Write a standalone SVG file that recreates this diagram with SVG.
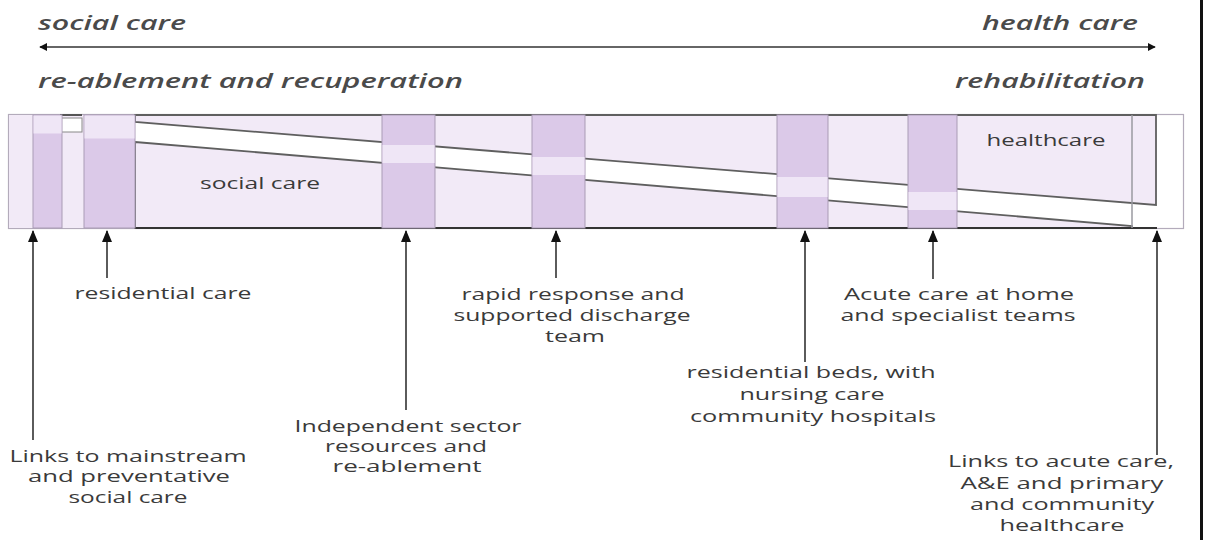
<svg xmlns="http://www.w3.org/2000/svg" width="1205" height="540" viewBox="0 0 1205 540">
<style>
.top{font-family:"Open Sans","Liberation Sans",sans-serif;font-style:italic;font-weight:600;font-size:19px;fill:#4a4a4a}
.lbl{font-family:"Open Sans","Liberation Sans",sans-serif;font-size:16px;fill:#3a3a3a}
.in{font-family:"Open Sans","Liberation Sans",sans-serif;font-size:16px;fill:#3a3a3a}
.lav{fill:#f2eaf7}
.cd{fill:#dbc9e8;stroke:#a99bb5;stroke-width:1}
.cl{fill:#efe6f6;stroke:none}
.reg{fill:#f2eaf7;stroke:#5f5f5f;stroke-width:1.8}
.con{stroke:#333;stroke-width:1.6;fill:none}
</style>
<defs>
<marker id="ah" viewBox="0 0 10 10" refX="9" refY="5" markerWidth="8" markerHeight="8" markerUnits="userSpaceOnUse" orient="auto-start-reverse">
<path d="M0,0 L10,5 L0,10 z" fill="#111"/>
</marker>
<marker id="au" viewBox="0 0 12 10" refX="11" refY="5" markerWidth="12" markerHeight="12" markerUnits="userSpaceOnUse" orient="auto">
<path d="M0,0 L12,5 L0,10 z" fill="#111"/>
</marker>
</defs>
<rect width="1205" height="540" fill="#fff"/>
<rect x="1200" y="0" width="3" height="540" fill="#111"/>

<g id="header">
<text class="top" x="38" y="30" textLength="148" lengthAdjust="spacingAndGlyphs">social care</text>
<text class="top" x="982" y="30" textLength="156" lengthAdjust="spacingAndGlyphs">health care</text>
<text class="top" x="38" y="88" textLength="425" lengthAdjust="spacingAndGlyphs">re-ablement and recuperation</text>
<text class="top" x="955" y="88" textLength="190" lengthAdjust="spacingAndGlyphs">rehabilitation</text>
</g>

<g id="bar">
<rect x="8.5" y="114.5" width="1175" height="114" fill="#fff" stroke="#b3abbb" stroke-width="1.2"/>
<rect class="lav" x="9" y="115" width="126" height="113"/>
<polygon id="healthcare-region" class="reg" points="135,115 1156,115 1156,205 135,122"/>
<polygon id="socialcare-region" class="reg" points="135,142 1132,226 1132,228 135,228"/>
<line x1="135" y1="228" x2="1157" y2="228" stroke="#333" stroke-width="2"/>
<line x1="1132" y1="115" x2="1132" y2="228" stroke="#9a9aa0" stroke-width="1.5"/>
<rect x="60" y="118" width="22" height="14" fill="#fff" stroke="#888" stroke-width="1"/>
<line x1="60" y1="115" x2="82" y2="115" stroke="#555" stroke-width="2"/>
</g>

<g id="columns">
<g id="col-a"><rect class="cd" x="33" y="115" width="29" height="113"/><rect class="cl" x="33.5" y="115.5" width="28" height="18"/></g>
<g id="col-b"><rect class="cd" x="84" y="115" width="51" height="113"/><rect class="cl" x="84.5" y="115.5" width="50" height="23"/></g>
<g id="col-c"><rect class="cd" x="382" y="115" width="53" height="113"/><rect class="cl" x="382.5" y="145" width="52" height="18"/></g>
<g id="col-d"><rect class="cd" x="532" y="115" width="53" height="113"/><rect class="cl" x="532.5" y="157" width="52" height="18"/></g>
<g id="col-e"><rect class="cd" x="777" y="115" width="51" height="113"/><rect class="cl" x="777.5" y="177" width="50" height="20"/></g>
<g id="col-f"><rect class="cd" x="908" y="115" width="49" height="113"/><rect class="cl" x="908.5" y="192" width="48" height="18"/></g>
</g>

<g id="bar-labels">
<text class="in" x="260" y="189" text-anchor="middle" textLength="120" lengthAdjust="spacingAndGlyphs">social care</text>
<text class="in" x="1046" y="146" text-anchor="middle" textLength="119" lengthAdjust="spacingAndGlyphs">healthcare</text>
</g>

<g id="connectors">
<line class="con" x1="40" y1="47" x2="1155" y2="47" marker-start="url(#ah)" marker-end="url(#ah)"/>
<line class="con" x1="33" y1="440" x2="33" y2="231" marker-end="url(#au)"/>
<line class="con" x1="107" y1="278" x2="107" y2="231" marker-end="url(#au)"/>
<line class="con" x1="406" y1="410" x2="406" y2="231" marker-end="url(#au)"/>
<line class="con" x1="556" y1="278" x2="556" y2="231" marker-end="url(#au)"/>
<line class="con" x1="805" y1="362" x2="805" y2="231" marker-end="url(#au)"/>
<line class="con" x1="933" y1="279" x2="933" y2="231" marker-end="url(#au)"/>
<line class="con" x1="1157" y1="455" x2="1157" y2="231" marker-end="url(#au)"/>
</g>

<g id="label-mainstream">
<text class="lbl" x="128" y="462" text-anchor="middle" textLength="237" lengthAdjust="spacingAndGlyphs">Links to mainstream</text>
<text class="lbl" x="129" y="482" text-anchor="middle" textLength="202" lengthAdjust="spacingAndGlyphs">and preventative</text>
<text class="lbl" x="128" y="503" text-anchor="middle" textLength="119" lengthAdjust="spacingAndGlyphs">social care</text>
</g>
<g id="label-residential">
<text class="lbl" x="163" y="299" text-anchor="middle" textLength="177" lengthAdjust="spacingAndGlyphs">residential care</text>
</g>
<g id="label-independent">
<text class="lbl" x="408" y="432" text-anchor="middle" textLength="227" lengthAdjust="spacingAndGlyphs">Independent sector</text>
<text class="lbl" x="406" y="452" text-anchor="middle" textLength="162" lengthAdjust="spacingAndGlyphs">resources and</text>
<text class="lbl" x="407" y="472" text-anchor="middle" textLength="149" lengthAdjust="spacingAndGlyphs">re-ablement</text>
</g>
<g id="label-rapid">
<text class="lbl" x="573" y="300" text-anchor="middle" textLength="223" lengthAdjust="spacingAndGlyphs">rapid response and</text>
<text class="lbl" x="572" y="321" text-anchor="middle" textLength="237" lengthAdjust="spacingAndGlyphs">supported discharge</text>
<text class="lbl" x="575" y="342" text-anchor="middle" textLength="60" lengthAdjust="spacingAndGlyphs">team</text>
</g>
<g id="label-beds">
<text class="lbl" x="811" y="378" text-anchor="middle" textLength="249" lengthAdjust="spacingAndGlyphs">residential beds, with</text>
<text class="lbl" x="812" y="400" text-anchor="middle" textLength="145" lengthAdjust="spacingAndGlyphs">nursing care</text>
<text class="lbl" x="813" y="422" text-anchor="middle" textLength="246" lengthAdjust="spacingAndGlyphs">community hospitals</text>
</g>
<g id="label-acute">
<text class="lbl" x="959" y="300" text-anchor="middle" textLength="230" lengthAdjust="spacingAndGlyphs">Acute care at home</text>
<text class="lbl" x="958" y="321" text-anchor="middle" textLength="235" lengthAdjust="spacingAndGlyphs">and specialist teams</text>
</g>
<g id="label-links-acute">
<text class="lbl" x="1061" y="467" text-anchor="middle" textLength="226" lengthAdjust="spacingAndGlyphs">Links to acute care,</text>
<text class="lbl" x="1062" y="489" text-anchor="middle" textLength="203" lengthAdjust="spacingAndGlyphs">A&amp;E and primary</text>
<text class="lbl" x="1062" y="510" text-anchor="middle" textLength="184" lengthAdjust="spacingAndGlyphs">and community</text>
<text class="lbl" x="1062" y="531" text-anchor="middle" textLength="125" lengthAdjust="spacingAndGlyphs">healthcare</text>
</g>
</svg>
